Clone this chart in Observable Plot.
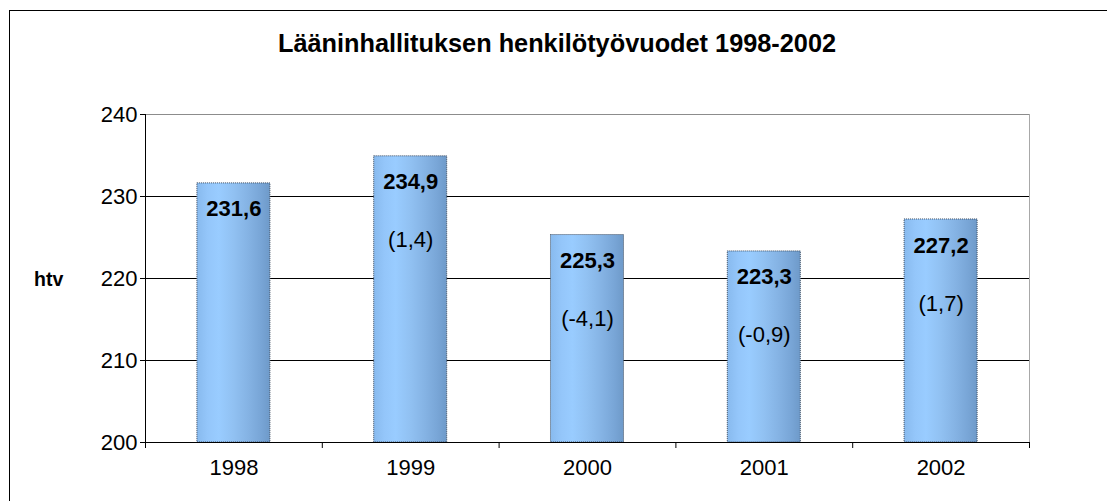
<!DOCTYPE html>
<html>
<head>
<meta charset="utf-8">
<script src="https://cdn.jsdelivr.net/npm/d3@7"></script>
<script src="https://cdn.jsdelivr.net/npm/@observablehq/plot@0.6"></script>
<style>
  html, body { margin: 0; padding: 0; background: #fff; }
  #wrap { position: relative; width: 1107px; height: 501px; overflow: hidden; font-family: "Liberation Sans", Arial, sans-serif; }
  #border { position: absolute; left: 9px; top: 10px; width: 1200px; height: 600px; border: 1px solid #000; box-sizing: border-box; }
  #title { position: absolute; left: 0; width: 1114px; top: 28px; text-align: center; font-weight: bold; font-size: 25.3px; line-height: 30px; color: #000; }
  #ylab { position: absolute; left: 34px; top: 267px; font-weight: bold; font-size: 19.5px; line-height: 24px; color: #000; }
  #chart { position: absolute; left: 0; top: 0; }
</style>
</head>
<body>
<div id="wrap">
  <div id="border"></div>
  <div id="title">Lääninhallituksen henkilötyövuodet 1998-2002</div>
  <div id="ylab">htv</div>
  <div id="chart"></div>
</div>
<script>
const title = "Lääninhallituksen henkilötyövuodet 1998-2002";
const yLabel = "htv";
const years = ["1998", "1999", "2000", "2001", "2002"];
const values = [231.6, 234.9, 225.3, 223.3, 227.2];
const valueLabels = ["231,6", "234,9", "225,3", "223,3", "227,2"];
const changeLabels = ["", "(1,4)", "(-4,1)", "(-0,9)", "(1,7)"];
const yTicks = [200, 210, 220, 230, 240];
const gridValues = [210, 220, 230];

const barHalf = 0.2065; // half bar width as a fraction of category
const data = years.map((y, i) => ({
  year: y, i, center: i + 0.5, value: values[i],
  vlabel: valueLabels[i], clabel: changeLabels[i]
}));

const chart = Plot.plot({
  width: 1107,
  height: 501,
  marginLeft: 145,
  marginRight: 78,
  marginTop: 114,
  marginBottom: 59,
  style: { fontFamily: "'Liberation Sans', Arial, sans-serif", fontSize: "22px", color: "#000", background: "transparent", overflow: "visible" },
  x: { type: "linear", domain: [0, years.length], axis: null },
  y: { domain: [200, 240], axis: null },
  marks: [
    Plot.ruleY([240], { stroke: "#8c8c8c" }),
    Plot.ruleX([years.length], { stroke: "#a8a8a8" }),
    Plot.ruleY(gridValues, { stroke: "#000" }),
    Plot.rectY(data, {
      x1: d => d.center - barHalf, x2: d => d.center + barHalf,
      y1: 200, y2: "value",
      fill: "url(#barGrad)", stroke: "#3e4c5e", strokeWidth: 1, strokeDasharray: "1,1"
    }),
    Plot.ruleY([200], { stroke: "#000" }),
    Plot.ruleX([0], { stroke: "#000" }),
    Plot.axisY({ ticks: yTicks, tickSize: 5, tickPadding: 3, label: null, fontSize: 22, stroke: "#000" }),
    Plot.axisX({ ticks: d3.range(0, years.length + 1), tickSize: 6, tickFormat: () => "", label: null, stroke: "#000" }),
    Plot.text(data, { x: "center", y: 200, text: "year", dy: 25, fontSize: 22, fill: "#000" }),
    Plot.text(data, { x: "center", y: "value", text: "vlabel", dy: 26, fontSize: 22, fontWeight: "bold", fill: "#000" }),
    Plot.text(data, { x: "center", y: "value", text: "clabel", dy: 84, fontSize: 22, fill: "#000" })
  ]
});

const ns = "http://www.w3.org/2000/svg";
const defs = document.createElementNS(ns, "defs");
defs.innerHTML = `<linearGradient id="barGrad" x1="0" x2="1" y1="0" y2="0">
  <stop offset="0" stop-color="#88baee"/>
  <stop offset="0.15" stop-color="#94c6fa"/>
  <stop offset="0.3" stop-color="#99ccff"/>
  <stop offset="0.5" stop-color="#91c1f2"/>
  <stop offset="0.7" stop-color="#85b3e4"/>
  <stop offset="0.88" stop-color="#78a5d6"/>
  <stop offset="1" stop-color="#6e9ac9"/>
</linearGradient>`;
chart.insertBefore(defs, chart.firstChild);
document.getElementById("chart").appendChild(chart);
</script>
</body>
</html>
